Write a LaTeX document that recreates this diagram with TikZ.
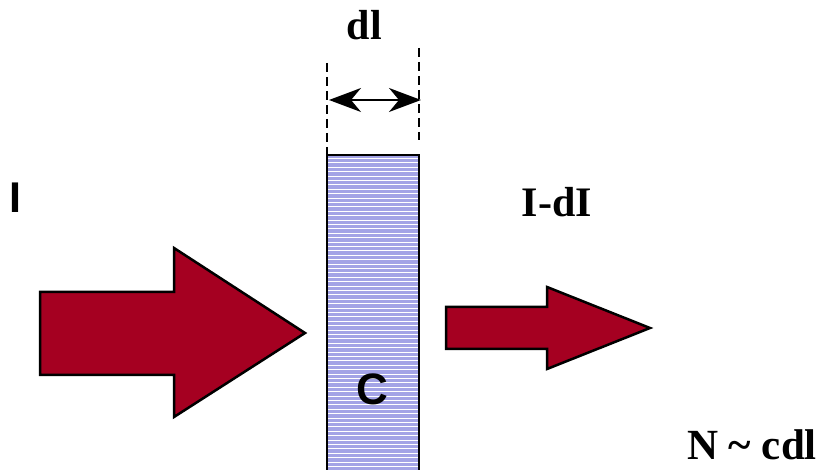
\documentclass[tikz,border=0pt]{standalone}
\usepackage{fontspec}
\setmainfont{Liberation Serif}
\newfontfamily\arialbold{Liberation Sans}[BoldFont={* Bold}]
\usepackage{tikz}
\usetikzlibrary{positioning,calc,arrows.meta}
\definecolor{arrowred}{RGB}{165,0,33}
\definecolor{layerblue}{RGB}{163,163,230}

\begin{document}
\begin{tikzpicture}[
  x=1pt,y=-1pt,
  blockarrow/.style={draw=black,line width=2.5pt,fill=arrowred,line join=miter},
  layer/.style={fill=layerblue},
  guide/.style={draw=black,line width=2.4pt,dash pattern=on 9pt off 5pt},
  lbl/.style={font=\fontsize{40}{44}\selectfont\bfseries,anchor=base,inner sep=0pt}
]
  \useasboundingbox (0,0) rectangle (817,470);

  % absorbing layer
  \fill[layer] (327,155) rectangle (419,472);
  \foreach \yy in {158.5,162.9,...,470} {
    \draw[white,line width=1.1pt] (328,\yy) -- (418,\yy);
  }
  \draw[black,line width=2.2pt] (327,472) -- (327,155) -- (419,155) -- (419,472);
  \node[lbl,font=\fontsize{44}{48}\selectfont\arialbold\bfseries] (conc) at (372,404) {C};

  % thickness dl
  \coordinate (dlL) at (329,100);
  \coordinate (dlR) at (421,100);
  \draw[guide] (327,63) -- (327,155);
  \draw[guide] (419,48) -- (419,140);
  \draw[line width=1.8pt,{Stealth[length=32pt,width=24pt,inset=10pt]}-{Stealth[length=32pt,width=24pt,inset=10pt]}] (dlL) -- (dlR);
  \node[lbl,font=\fontsize{42}{46}\selectfont\bfseries] (dl) at (364.5,40) {dl};

  % incoming beam
  \draw[blockarrow] (40,292) -- (174,292) -- (174,248) -- (305,333)
    -- (174,417) -- (174,375) -- (40,375) -- cycle;
  \node[lbl,font=\fontsize{43}{46}\selectfont\arialbold\bfseries] (Iin) at (15,213) {I};

  % outgoing beam
  \draw[blockarrow] (446,307) -- (547,307) -- (547,287) -- (650,328)
    -- (547,369) -- (547,349) -- (446,349) -- cycle;
  \node[lbl,font=\fontsize{42}{46}\selectfont\bfseries] (Iout) at (557,217) {I-dI};

  \node[lbl,font=\fontsize{43}{46}\selectfont\bfseries] (count) at (752,459) {N \textasciitilde\ cdl};
\end{tikzpicture}
\end{document}
